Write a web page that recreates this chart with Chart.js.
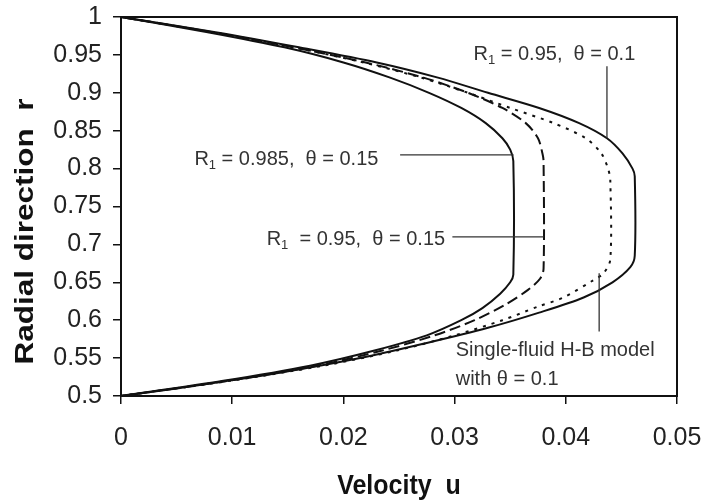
<!DOCTYPE html>
<html>
<head>
<meta charset="utf-8">
<script src="https://cdn.jsdelivr.net/npm/chart.js@4.4.1/dist/chart.umd.min.js"></script>
<style>
  html, body { margin: 0; padding: 0; background: #fff; }
  #wrap { width: 704px; height: 502px; }
</style>
</head>
<body>
<div id="wrap"><canvas id="chart" width="704" height="502"></canvas></div>
<script>
// velocity profiles u(r), ordered from inner wall (r=0.5) to outer wall (r=1)
const rA = [0.5, 0.52, 0.54, 0.56, 0.58, 0.60, 0.616, 0.635, 0.65, 0.66, 0.81, 0.825, 0.84, 0.86, 0.88, 0.90, 0.92, 0.94, 0.96, 0.98, 1.0];
const uA = [0, 0.0092, 0.0170, 0.0228, 0.0275, 0.0306, 0.0325, 0.0341, 0.0350, 0.03528, 0.03528, 0.0350, 0.0343, 0.0328, 0.0306, 0.0277, 0.0242, 0.0200, 0.0147, 0.0078, 0];

const rB = [0.5, 0.52, 0.54, 0.56, 0.58, 0.60, 0.62, 0.64, 0.655, 0.668, 0.81, 0.82, 0.84, 0.86, 0.88, 0.90, 0.92, 0.94, 0.96, 0.98, 1.0];
const uB = [0, 0.0096, 0.0176, 0.0235, 0.0282, 0.0318, 0.0345, 0.0366, 0.0377, 0.0380, 0.0380, 0.0379, 0.0375, 0.0364, 0.0343, 0.0312, 0.0272, 0.0220, 0.0155, 0.0082, 0];

const rC = [0.5, 0.51, 0.53, 0.55, 0.57, 0.59, 0.61, 0.63, 0.65, 0.67, 0.685, 0.79, 0.80, 0.82, 0.84, 0.86, 0.88, 0.90, 0.92, 0.94, 0.96, 0.98, 1.0];
const uC = [0, 0.0050, 0.0140, 0.0215, 0.0275, 0.0330, 0.0376, 0.0416, 0.0442, 0.0458, 0.0462, 0.0462, 0.0460, 0.0451, 0.0437, 0.0412, 0.0376, 0.0330, 0.0285, 0.0230, 0.0160, 0.0085, 0];

const rD = [0.5, 0.52, 0.54, 0.56, 0.58, 0.60, 0.618, 0.63, 0.653, 0.662, 0.68, 0.785, 0.80, 0.82, 0.84, 0.86, 0.88, 0.90, 0.92, 0.94, 0.96, 0.98, 1.0];
const uD = [0, 0.0098, 0.0182, 0.0248, 0.0300, 0.0343, 0.0375, 0.0398, 0.0425, 0.0434, 0.0440, 0.0440, 0.0438, 0.0432, 0.0418, 0.0389, 0.0350, 0.0312, 0.0270, 0.0218, 0.0155, 0.0082, 0];

const xTicks = [0, 0.01, 0.02, 0.03, 0.04, 0.05];
const yTicks = [0.5, 0.55, 0.6, 0.65, 0.7, 0.75, 0.8, 0.85, 0.9, 0.95, 1];

const xTitle = 'Velocity  u';
const yTitle = 'Radial direction  r';

// text notes with leader lines, positioned in data units
const notes = [
  { main: 'R', sub: '1', rest: ' = 0.95,  θ = 0.1', u: 0.0317, r: 0.950, line: [0.0437, 0.935, 0.0437, 0.840] },
  { main: 'R', sub: '1', rest: ' = 0.985,  θ = 0.15', u: 0.0066, r: 0.812, line: [0.0251, 0.818, 0.0353, 0.818] },
  { main: 'R', sub: '1', rest: '  = 0.95,  θ = 0.15', u: 0.0131, r: 0.707, line: [0.0298, 0.710, 0.0380, 0.710] },
  { main: 'Single-fluid H-B model', sub: '', rest: '', u: 0.0301, r: 0.560, line: [0.0430, 0.585, 0.0430, 0.662] },
  { main: 'with θ = 0.1', sub: '', rest: '', u: 0.0301, r: 0.522, line: null }
];

function pts(rs, us) {
  return rs.map((r, i) => ({ x: us[i], y: r }));
}

const tickFont = { family: "'Liberation Sans', Arial, sans-serif", size: 25 };

const annotate = {
  id: 'annotate',
  afterDatasetsDraw(chart) {
    const c = chart.ctx, xs = chart.scales.x, ys = chart.scales.y, a = chart.chartArea;
    c.save();
    // box round the plot
    c.strokeStyle = '#111';
    c.lineWidth = 2;
    c.strokeRect(a.left, a.top, a.right - a.left, a.bottom - a.top);

    c.strokeStyle = '#333';
    c.lineWidth = 1.3;
    c.fillStyle = '#333';
    c.textBaseline = 'middle';
    notes.forEach(n => {
      if (n.line) {
        c.beginPath();
        c.moveTo(xs.getPixelForValue(n.line[0]), ys.getPixelForValue(n.line[1]));
        c.lineTo(xs.getPixelForValue(n.line[2]), ys.getPixelForValue(n.line[3]));
        c.stroke();
      }
      let x = xs.getPixelForValue(n.u);
      const y = ys.getPixelForValue(n.r);
      c.font = "20px 'Liberation Sans', Arial, sans-serif";
      c.fillText(n.main, x, y);
      x += c.measureText(n.main).width;
      if (n.sub) {
        c.font = "13px 'Liberation Sans', Arial, sans-serif";
        c.fillText(n.sub, x, y + 6);
        x += c.measureText(n.sub).width;
        c.font = "20px 'Liberation Sans', Arial, sans-serif";
        c.fillText(n.rest, x, y);
      }
    });

    // axis titles
    c.fillStyle = '#111';
    c.font = "bold 25px 'Liberation Sans', Arial, sans-serif";
    c.textAlign = 'center';
    c.save();
    c.translate((a.left + a.right) / 2, 486);
    c.scale(1, 1.1);
    c.fillText(xTitle, 0, 0);
    c.restore();
    c.translate(26, ys.getPixelForValue(0.717));
    c.rotate(-Math.PI / 2);
    c.scale(1.26, 1);
    c.fillText(yTitle, 0, 0);
    c.restore();
  }
};

function lineSet(label, data, dash) {
  return {
    label: label,
    data: data,
    showLine: true,
    borderColor: '#111',
    borderWidth: 2,
    borderDash: dash,
    pointRadius: 0,
    tension: 0.3,
    fill: false
  };
}

new Chart(document.getElementById('chart'), {
  type: 'scatter',
  data: {
    datasets: [
      lineSet('R1 = 0.985, θ = 0.15', pts(rA, uA), []),
      lineSet('R1 = 0.95, θ = 0.15', pts(rB, uB), [11, 5]),
      lineSet('R1 = 0.95, θ = 0.1', pts(rC, uC), []),
      lineSet('Single-fluid H-B model with θ = 0.1', pts(rD, uD), [3, 6])
    ]
  },
  options: {
    responsive: false,
    animation: false,
    devicePixelRatio: 1,
    layout: { padding: { top: 17, right: 27, left: 0, bottom: 0 } },
    plugins: { legend: { display: false }, tooltip: { enabled: false } },
    scales: {
      x: {
        type: 'linear',
        min: 0,
        max: 0.05,
        afterBuildTicks: s => { s.ticks = xTicks.map(v => ({ value: v })); },
        afterFit: s => { s.height = 106; s.paddingLeft = 0; s.paddingRight = 0; },
        ticks: {
          font: tickFont,
          color: '#222',
          padding: 19,
          maxRotation: 0,
          callback: v => String(+v.toFixed(2))
        },
        grid: { drawOnChartArea: false, tickLength: 8, color: '#111', lineWidth: 1.5 },
        border: { color: '#111', width: 2 }
      },
      y: {
        type: 'linear',
        min: 0.5,
        max: 1,
        afterBuildTicks: s => { s.ticks = yTicks.map(v => ({ value: v })); },
        afterFit: s => { s.width = 121; s.paddingTop = 0; s.paddingBottom = 0; },
        ticks: {
          font: tickFont,
          color: '#222',
          padding: 11,
          callback: v => String(+v.toFixed(2))
        },
        grid: { drawOnChartArea: false, tickLength: 8, color: '#111', lineWidth: 1.5 },
        border: { color: '#111', width: 2 }
      }
    }
  },
  plugins: [annotate]
});
</script>
</body>
</html>
